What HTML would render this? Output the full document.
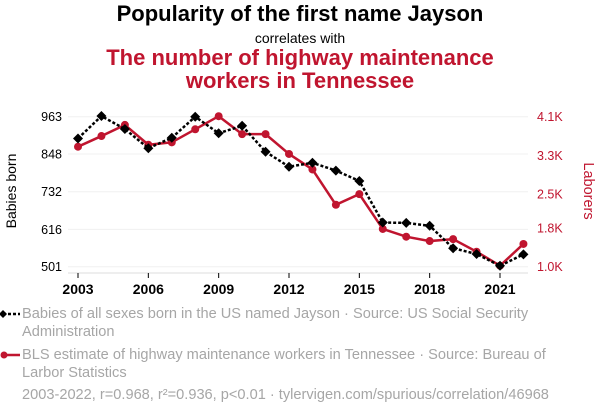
<!DOCTYPE html>
<html><head><meta charset="utf-8"><style>
body{margin:0;width:600px;height:414px;background:#fff;font-family:"Liberation Sans",sans-serif;overflow:hidden;position:relative}
.t{position:absolute;left:0;width:600px;text-align:center}
.leg{position:absolute;left:22px;font-size:14.6px;color:#a6a6a6;line-height:18px;width:560px}
</style></head><body>
<div class="t" style="top:1px;font-size:22px;font-weight:bold;color:#000">Popularity of the first name Jayson</div>
<div class="t" style="top:30px;font-size:14px;color:#000">correlates with</div>
<div class="t" style="top:46px;font-size:22px;font-weight:bold;color:#c0152f;line-height:23px">The number of highway maintenance<br>workers in Tennessee</div>
<svg id="c" width="600" height="300" style="position:absolute;left:0;top:0"></svg>
<div class="leg" style="top:305px">Babies of all sexes born in the US named Jayson · Source: US Social Security Administration</div>
<div class="leg" style="top:346px">BLS estimate of highway maintenance workers in Tennessee · Source: Bureau of Larbor Statistics</div>
<div class="leg" style="top:386px">2003-2022, r=0.968, r²=0.936, p&lt;0.01 · tylervigen.com/spurious/correlation/46968</div>
<svg width="22" height="80" style="position:absolute;left:0;top:305px">
<line x1="3" y1="9" x2="20" y2="9" stroke="#000" stroke-width="2.5" stroke-dasharray="3,2"/><path d="M3,5 L7,9 L3,13 L-1,9Z" fill="#000"/>
<line x1="3" y1="50" x2="20" y2="50" stroke="#c0152f" stroke-width="2.5"/><circle cx="4" cy="50" r="3.5" fill="#c0152f"/>
</svg>
<script>
const years=[2003,2004,2005,2006,2007,2008,2009,2010,2011,2012,2013,2014,2015,2016,2017,2018,2019,2020,2021,2022];
const babies=[896,965,925,866,898,963,912,935,855,809,821,797,765,637,636,627,558,540,504,539];
const workers=[3.48,3.70,3.93,3.52,3.57,3.84,4.11,3.74,3.74,3.33,3.01,2.28,2.50,1.78,1.62,1.53,1.57,1.31,1.02,1.47];
const leftTicks=[501,616,732,848,963];
const rightTicks=[1.0,1.8,2.5,3.3,4.1];
const rightLabels=["1.0K","1.8K","2.5K","3.3K","4.1K"];
const xTicks=[2003,2006,2009,2012,2015,2018,2021];
const ns="http://www.w3.org/2000/svg",svg=document.getElementById('c');
const X=y=>78+(y-2003)*(422/18);
const YL=v=>266.7-(v-501)/(963-501)*150;
const YR=v=>266.7-(v-1.0)/(4.1-1.0)*150;
function mk(t,a,p){const e=document.createElementNS(ns,t);for(const k in a)e.setAttribute(k,a[k]);(p||svg).appendChild(e);return e;}
leftTicks.forEach((v,i)=>{
const g=mk('line',{x1:68,x2:528,y1:YL(v),y2:YL(v),stroke:'#f0f0f0','stroke-width':1});


const t=mk('text',{x:62,y:YL(v)+4.5,'text-anchor':'end','font-size':12.5,fill:'#000'});t.textContent=v;


});
rightTicks.forEach((v,i)=>{
const t=mk('text',{x:537,y:YR(v)+4.5,'font-size':12.5,fill:'#c0152f'});t.textContent=rightLabels[i];


});
const ax=mk('line',{x1:68,x2:528,y1:273,y2:273,stroke:'#ddd','stroke-width':1});


xTicks.forEach(y=>{
mk('line',{x1:X(y),x2:X(y),y1:273,y2:278,stroke:'#000','stroke-width':1});
const t=mk('text',{x:X(y),y:294,'text-anchor':'middle','font-size':14,'font-weight':'bold',fill:'#000'});t.textContent=y;


});
const yl=mk('text',{transform:'translate(16,191) rotate(-90)','text-anchor':'middle','font-size':14,fill:'#000'});yl.textContent='Babies born';


const yr=mk('text',{transform:'translate(584,191) rotate(90)','text-anchor':'middle','font-size':14.5,fill:'#c0152f'});yr.textContent='Laborers';


const rl=mk('polyline',{points:years.map((y,i)=>X(y)+','+YR(workers[i])).join(' '),fill:'none',stroke:'#c0152f','stroke-width':2.5});


years.forEach((y,i)=>{const c=mk('circle',{cx:X(y),cy:YR(workers[i]),r:4,fill:'#c0152f'});

});
const bl=mk('polyline',{points:years.map((y,i)=>X(y)+','+YL(babies[i])).join(' '),fill:'none',stroke:'#000','stroke-width':2.5,'stroke-dasharray':'3,2'});


years.forEach((y,i)=>{const x=X(y),v=YL(babies[i]);const d=mk('path',{d:`M${x},${v-5}L${x+5},${v}L${x},${v+5}L${x-5},${v}Z`,fill:'#000'});

});
</script>
</body></html>
